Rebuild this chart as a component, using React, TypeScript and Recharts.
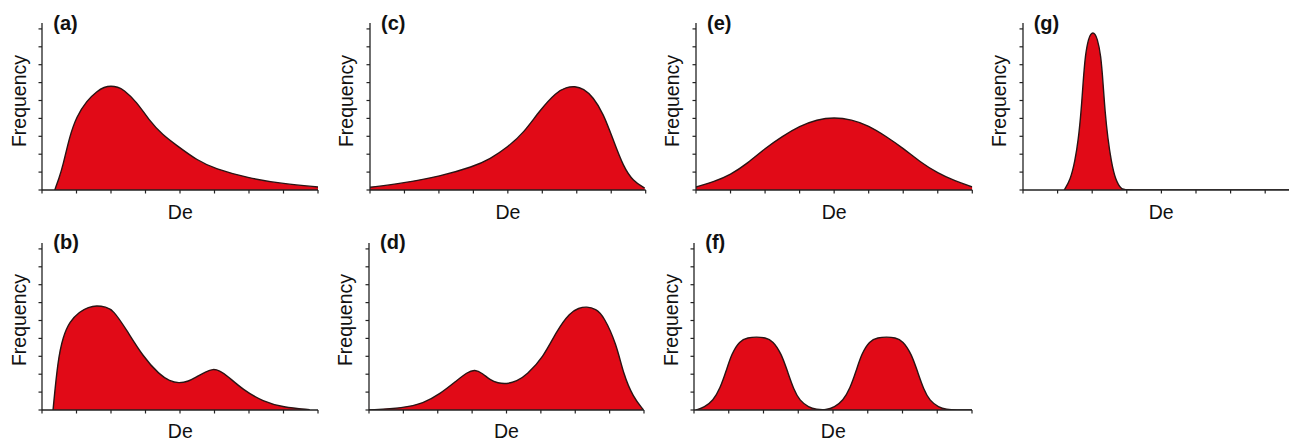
import React from 'react';
import { AreaChart, Area, XAxis, YAxis } from 'recharts';

// x in "De" tick units (0..8), y in frequency tick units (0..9)
const aX = [0.37, 0.5, 0.6, 0.8, 1.0, 1.3, 1.6, 1.8, 2.0, 2.2, 2.35, 2.75, 3.1, 3.5, 3.9, 4.5, 5.0, 6.0, 7.0, 8.0];
const aY = [0, 0.7, 1.3, 3.0, 4.1, 5.0, 5.53, 5.75, 5.82, 5.75, 5.63, 4.92, 3.9, 3.07, 2.5, 1.65, 1.2, 0.65, 0.35, 0.17];

const bX = [0.32, 0.46, 0.61, 0.8, 1.09, 1.35, 1.58, 1.85, 2.06, 2.45, 2.93, 3.41, 3.7, 3.96, 4.25, 4.47, 4.75, 4.96, 5.15, 5.34, 5.83, 6.41, 6.99, 7.76];
const bY = [0, 2.8, 4.1, 4.94, 5.5, 5.75, 5.84, 5.76, 5.6, 4.48, 2.98, 1.96, 1.62, 1.49, 1.6, 1.83, 2.15, 2.3, 2.2, 1.96, 1.12, 0.47, 0.15, 0.02];

const cX = [0, 0.97, 2.03, 3.0, 3.48, 4.01, 4.45, 4.93, 5.41, 5.7, 5.94, 6.2, 6.47, 6.77, 7.06, 7.35, 7.64, 7.97];
const cY = [0.15, 0.39, 0.76, 1.31, 1.72, 2.42, 3.17, 4.46, 5.48, 5.74, 5.8, 5.66, 5.2, 4.28, 2.79, 1.31, 0.48, 0.11];

const dX = [0, 1.0, 1.58, 2.06, 2.55, 2.85, 3.08, 3.3, 3.52, 3.75, 4.0, 4.3, 4.59, 5.07, 5.46, 5.85, 6.1, 6.33, 6.6, 6.82, 7.2, 7.4, 7.69, 7.98];
const dY = [0, 0.11, 0.37, 0.89, 1.64, 2.1, 2.27, 2.05, 1.68, 1.5, 1.45, 1.6, 1.97, 2.94, 4.43, 5.45, 5.7, 5.78, 5.65, 5.27, 3.69, 2.0, 0.7, 0.02];

const eX = [0, 0.5, 1, 1.5, 2, 2.5, 3, 3.5, 4, 4.5, 5, 5.5, 6, 6.5, 7, 7.5, 8];
const eY = [0.17, 0.45, 0.85, 1.5, 2.33, 3.0, 3.57, 3.94, 4.06, 3.94, 3.6, 3.0, 2.33, 1.55, 0.94, 0.5, 0.17];

const fX = [0.05, 0.3, 0.55, 0.75, 0.93, 1.08, 1.31, 1.55, 1.8, 2.05, 2.27, 2.52, 2.7, 2.87, 3.04, 3.3, 3.52, 3.8,
  4.04, 4.29, 4.49, 4.67, 4.82, 5.05, 5.29, 5.54, 5.79, 6.01, 6.26, 6.44, 6.61, 6.78, 7.04, 7.26, 7.55, 8];
const fY = [0, 0.15, 0.52, 1.2, 2.2, 3.13, 3.87, 4.05, 4.08, 4.05, 3.87, 3.13, 2.1, 1.15, 0.52, 0.15, 0.03, 0,
  0.15, 0.52, 1.2, 2.2, 3.13, 3.87, 4.05, 4.08, 4.05, 3.87, 3.13, 2.1, 1.15, 0.52, 0.15, 0.03, 0, 0];

const gX = [1.19, 1.37, 1.5, 1.6, 1.68, 1.73, 1.8, 1.9, 1.96, 2.02, 2.08, 2.14, 2.25, 2.32, 2.37, 2.45, 2.55, 2.67, 2.85, 3.0, 8];
const gY = [0, 0.57, 1.6, 2.8, 4.4, 5.8, 7.6, 8.5, 8.72, 8.8, 8.72, 8.5, 7.6, 5.8, 4.4, 2.9, 1.6, 0.57, 0, 0, 0];

const xTicks = [0, 1, 2, 3, 4, 5, 6, 7, 8];
const yTicks = [0, 1, 2, 3, 4, 5, 6, 7, 8, 9];

const FILL = '#e10a17';
const STROKE = '#2a1414';
const AXIS = '#222';
const FONT = '"Liberation Sans", Arial, Helvetica, sans-serif';

const zip = (xs: number[], ys: number[]) => xs.map((x, i) => ({ x, y: ys[i] }));
const noLabel = () => '';

const ML = 6;
const MT = 4;
const MR = 4;
const MB = 6;
const PLOT_H = 167;

type PanelProps = {
  tag: string;
  xs: number[];
  ys: number[];
  axisX: number;
  axisTop: number;
  plotW: number;
};

function Panel({ tag, xs, ys, axisX, axisTop, plotW }: PanelProps) {
  const data = zip(xs, ys);
  const baseY = axisTop + PLOT_H;
  return (
    <>
      <div style={{ position: 'absolute', left: axisX - ML, top: axisTop - MT }}>
        <AreaChart
          width={plotW + ML + MR}
          height={PLOT_H + MT + MB}
          data={data}
          margin={{ top: MT, right: MR, left: ML - 1, bottom: MB - 1 }}
        >
          <XAxis
            type="number"
            dataKey="x"
            domain={[0, 8]}
            ticks={xTicks}
            tick={{ fill: 'none', fontSize: 1 }}
            tickFormatter={noLabel}
            tickSize={3.5}
            height={1}
            axisLine={{ stroke: AXIS, strokeWidth: 1.3 }}
            tickLine={{ stroke: AXIS, strokeWidth: 1.2 }}
            allowDataOverflow
          />
          <YAxis
            type="number"
            domain={[0, 9.33]}
            ticks={yTicks}
            tick={{ fill: 'none', fontSize: 1 }}
            tickFormatter={noLabel}
            tickSize={3.5}
            width={1}
            axisLine={{ stroke: AXIS, strokeWidth: 1.3 }}
            tickLine={{ stroke: AXIS, strokeWidth: 1.2 }}
            allowDataOverflow
          />
          <Area
            type="basis"
            dataKey="y"
            stroke={STROKE}
            strokeWidth={1.4}
            fill={FILL}
            fillOpacity={1}
            dot={false}
            activeDot={false}
            isAnimationActive={false}
          />
        </AreaChart>
      </div>
      <div
        style={{
          position: 'absolute',
          left: axisX + 11,
          top: axisTop - 10.3,
          fontFamily: FONT,
          fontWeight: 'bold',
          fontSize: 20,
          lineHeight: '20px',
          color: '#111',
        }}
      >
        {tag}
      </div>
      <div
        style={{
          position: 'absolute',
          left: axisX - 23.8 - 60,
          top: axisTop + 77.7 - 10,
          width: 120,
          height: 20,
          textAlign: 'center',
          transform: 'rotate(-90deg)',
          fontFamily: FONT,
          fontSize: 19.5,
          lineHeight: '20px',
          color: '#111',
        }}
      >
        Frequency
      </div>
      <div
        style={{
          position: 'absolute',
          left: axisX + plotW / 2 - 40,
          top: baseY + 14.3,
          width: 80,
          textAlign: 'center',
          fontFamily: FONT,
          fontSize: 19.5,
          lineHeight: '14px',
          color: '#111',
        }}
      >
        De
      </div>
    </>
  );
}

export default function App() {
  return (
    <div
      style={{
        position: 'absolute',
        left: 0,
        top: 0,
        width: 1289,
        height: 441,
        overflow: 'hidden',
        background: '#fff',
      }}
    >
      <Panel tag="(a)" xs={aX} ys={aY} axisX={42.3} axisTop={23.3} plotW={276} />
      <Panel tag="(b)" xs={bX} ys={bY} axisX={42.3} axisTop={242.5} plotW={276} />
      <Panel tag="(c)" xs={cX} ys={cY} axisX={370} axisTop={23.3} plotW={275.7} />
      <Panel tag="(d)" xs={dX} ys={dY} axisX={369} axisTop={242.5} plotW={275} />
      <Panel tag="(e)" xs={eX} ys={eY} axisX={696} axisTop={23.3} plotW={276.3} />
      <Panel tag="(f)" xs={fX} ys={fY} axisX={694.3} axisTop={242.5} plotW={278} />
      <Panel tag="(g)" xs={gX} ys={gY} axisX={1022.7} axisTop={23.3} plotW={276.8} />
    </div>
  );
}
